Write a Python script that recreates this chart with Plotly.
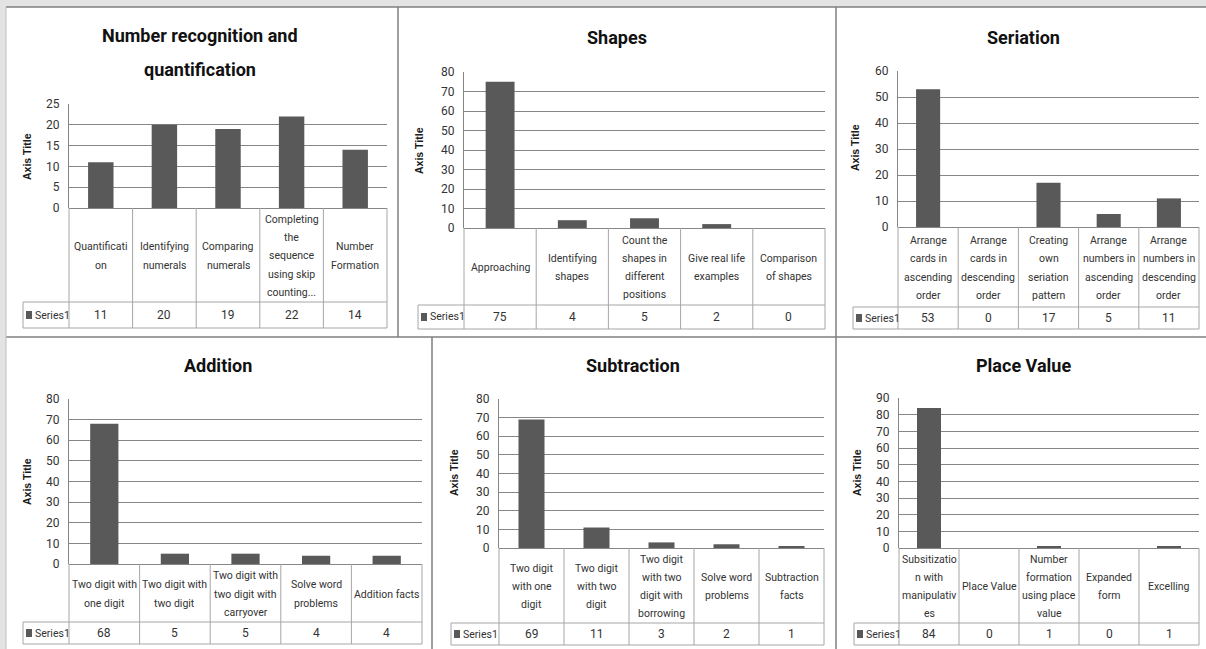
import plotly.graph_objects as go

W, H = 1206, 649

# ---- data -------------------------------------------------------------
series_name = "Series1"

titles = [
    "Number recognition and<br>quantification",
    "Shapes",
    "Seriation",
    "Addition",
    "Subtraction",
    "Place Value",
]

number_recognition_labels = [
    "Quantificati<br>on", "Identifying<br>numerals", "Comparing<br>numerals",
    "Completing<br>the<br>sequence<br>using skip<br>counting...", "Number<br>Formation",
]
number_recognition_values = [11, 20, 19, 22, 14]

shapes_labels = [
    "Approaching", "Identifying<br>shapes", "Count the<br>shapes in<br>different<br>positions",
    "Give real life<br>examples", "Comparison<br>of shapes",
]
shapes_values = [75, 4, 5, 2, 0]

seriation_labels = [
    "Arrange<br>cards in<br>ascending<br>order", "Arrange<br>cards in<br>descending<br>order",
    "Creating<br>own<br>seriation<br>pattern", "Arrange<br>numbers in<br>ascending<br>order",
    "Arrange<br>numbers in<br>descending<br>order",
]
seriation_values = [53, 0, 17, 5, 11]

addition_labels = [
    "Two digit with<br>one digit", "Two digit with<br>two digit",
    "Two digit with<br>two digit with<br>carryover", "Solve word<br>problems", "Addition facts",
]
addition_values = [68, 5, 5, 4, 4]

subtraction_labels = [
    "Two digit<br>with one<br>digit", "Two digit<br>with two<br>digit",
    "Two digit<br>with two<br>digit with<br>borrowing", "Solve word<br>problems", "Subtraction<br>facts",
]
subtraction_values = [69, 11, 3, 2, 1]

place_value_labels = [
    "Subsitizatio<br>n with<br>manipulativ<br>es", "Place Value",
    "Number<br>formation<br>using place<br>value", "Expanded<br>form", "Excelling",
]
place_value_values = [84, 0, 1, 0, 1]

y_max = [25, 80, 60, 80, 80, 90]
y_step = [5, 10, 10, 10, 10, 10]

# ---- layout of the six panels (pixels) --------------------------------
# left, right, top of value axis, zero line, category row bottom, value row bottom,
# legend cell left, title centre x, title line ys, axis-title x, axis-title y
panels = [
    dict(L=69, R=387, T=104, Z=208, Y1=302, Y2=328, LL=23, tx=200, ty=[35, 70], ax=27, ay=157),
    dict(L=464, R=825, T=72, Z=228, Y1=305, Y2=329, LL=418, tx=617, ty=[37], ax=419, ay=150),
    dict(L=898, R=1199, T=71, Z=227, Y1=307, Y2=329, LL=853, tx=1023, ty=[37], ax=855, ay=148),
    dict(L=69, R=422, T=399, Z=564, Y1=622, Y2=644, LL=23, tx=218, ty=[365], ax=27, ay=482),
    dict(L=499, R=824, T=399, Z=548, Y1=623, Y2=645, LL=451, tx=633, ty=[366], ax=454, ay=473),
    dict(L=899, R=1199, T=398, Z=548, Y1=623, Y2=645, LL=854, tx=1023, ty=[366], ax=857, ay=473),
]

labels_all = [number_recognition_labels, shapes_labels, seriation_labels,
              addition_labels, subtraction_labels, place_value_labels]
values_all = [number_recognition_values, shapes_values, seriation_values,
              addition_values, subtraction_values, place_value_values]

FONT = "Roboto, Liberation Sans, sans-serif"
BAR = "#595959"
GRID = "#868686"
TABLE = "#a6a6a6"
TEXT = "#333333"


def xp(px):
    return px / W


def yp(py):
    return 1 - py / H


def note(**kw):
    base = dict(showarrow=False, xanchor="center", yanchor="middle")
    base.update(kw)
    return base


fig = go.Figure()
shapes = []
annotations = []

# page background: grey margin strip, white sheet, panel separators
shapes.append(dict(type="rect", xref="paper", yref="paper", x0=xp(6), x1=1, y0=0, y1=yp(7),
                   fillcolor="white", line=dict(width=0), layer="below"))
sep = dict(color="#7f7f7f", width=1.5)
for x0, y0, x1, y1 in [(6, 7, 1206, 7), (6, 337, 1206, 337), (398, 7, 398, 337),
                       (836, 7, 836, 649), (432, 337, 432, 649)]:
    shapes.append(dict(type="line", xref="paper", yref="paper", x0=xp(x0), x1=xp(x1),
                       y0=yp(y0), y1=yp(y1), line=sep))
shapes.append(dict(type="line", xref="paper", yref="paper", x0=xp(6), x1=xp(6),
                   y0=yp(7), y1=0, line=dict(color="#bdbdbd", width=1)))

layout_axes = {}
for k, (p, labels, values) in enumerate(zip(panels, labels_all, values_all), start=1):
    xa, ya = f"x{k}", f"y{k}"
    fig.add_trace(go.Bar(x=labels, y=values, xaxis=xa, yaxis=ya, name=series_name,
                         marker=dict(color=BAR, line=dict(width=0)), showlegend=False,
                         hoverinfo="x+y"))
    layout_axes[f"xaxis{k}"] = dict(
        domain=[xp(p["L"]), xp(p["R"])], anchor=ya, type="category",
        range=[-0.5, 4.5], showticklabels=False, showgrid=False, zeroline=False,
        showline=False, fixedrange=True, automargin=False)
    layout_axes[f"yaxis{k}"] = dict(
        domain=[yp(p["Z"]), yp(p["T"])], anchor=xa, range=[0, y_max[k - 1]],
        dtick=y_step[k - 1], tick0=0, showgrid=True, gridcolor=GRID, gridwidth=1,
        zeroline=True, zerolinecolor=GRID, zerolinewidth=1,
        showline=True, linecolor=GRID, linewidth=1, ticks="",
        ticklabelstandoff=6, tickfont=dict(family=FONT, size=12, color=TEXT),
        fixedrange=True, automargin=False)

    # chart title
    for line, ty in zip(titles[k - 1].split("<br>"), p["ty"]):
        annotations.append(note(xref="paper", yref="paper", x=xp(p["tx"]), y=yp(ty),
                                text=f"<b>{line}</b>",
                                font=dict(family=FONT, size=18, color="#111111")))
    # axis title
    annotations.append(note(xref="paper", yref="paper", x=xp(p["ax"]), y=yp(p["ay"]),
                            text="<b>Axis Title</b>", textangle=-90,
                            font=dict(family="Liberation Sans, Arial, sans-serif",
                                      size=10.5, color="#1a1a1a")))

    # data table under the bars
    tl = dict(color=TABLE, width=1)
    col_w = (p["R"] - p["L"]) / len(labels)
    for i in range(len(labels) + 1):
        cx = p["L"] + i * col_w
        shapes.append(dict(type="line", xref="paper", yref="paper", x0=xp(cx), x1=xp(cx),
                           y0=yp(p["Z"]), y1=yp(p["Y2"]), line=tl))
    for yy in (p["Y1"], p["Y2"]):
        shapes.append(dict(type="line", xref="paper", yref="paper", x0=xp(p["LL"]),
                           x1=xp(p["R"]), y0=yp(yy), y1=yp(yy), line=tl))
    shapes.append(dict(type="line", xref="paper", yref="paper", x0=xp(p["LL"]),
                       x1=xp(p["LL"]), y0=yp(p["Y1"]), y1=yp(p["Y2"]), line=tl))

    # legend key in the table
    ym = (p["Y1"] + p["Y2"]) / 2
    shapes.append(dict(type="rect", xref="paper", yref="paper", x0=xp(p["LL"] + 3),
                       x1=xp(p["LL"] + 9), y0=yp(ym + 4), y1=yp(ym - 4),
                       fillcolor=BAR, line=dict(width=0)))
    annotations.append(note(xref="paper", yref="paper", x=xp(p["LL"] + 10), y=yp(ym),
                            xanchor="left", text=series_name,
                            font=dict(family=FONT, size=10.5, color=TEXT)))

    # category labels (one annotation per line for Excel-like spacing)
    yc = (p["Z"] + p["Y1"]) / 2 + 1
    for i, lab in enumerate(labels):
        lines = lab.split("<br>")
        n = len(lines)
        for j, line in enumerate(lines):
            annotations.append(note(xref=xa, yref="paper", x=i,
                                    y=yp(yc + (j - (n - 1) / 2) * 18.3),
                                    text=line,
                                    font=dict(family=FONT, size=10.5, color=TEXT)))
        annotations.append(note(xref=xa, yref="paper", x=i, y=yp(ym),
                                text=str(values[i]),
                                font=dict(family=FONT, size=12, color=TEXT)))

fig.update_layout(
    width=W, height=H, margin=dict(l=0, r=0, t=0, b=0, pad=0, autoexpand=False),
    autosize=False, paper_bgcolor="#e3e3e3", plot_bgcolor="white",
    bargap=0.6, showlegend=False,
    shapes=shapes, annotations=annotations,
    **layout_axes,
)

fig.write_html("out.html")
